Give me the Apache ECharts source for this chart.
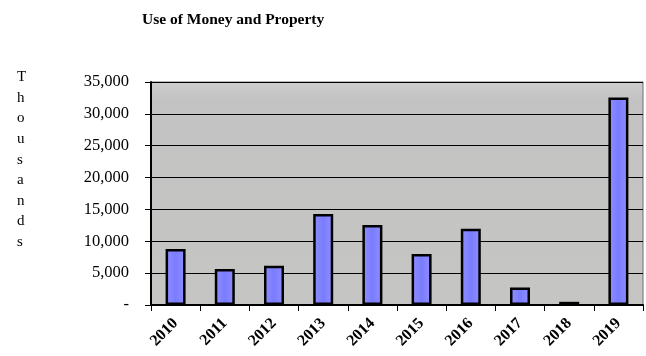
<!DOCTYPE html>
<html>
<head>
<meta charset="utf-8">
<script src="https://cdn.jsdelivr.net/npm/echarts@6/dist/echarts.min.js"></script>
<style>
  html, body { margin: 0; padding: 0; background: #ffffff; }
  #chart { width: 646px; height: 356px; }
</style>
</head>
<body>
<div id="chart"></div>
<script>
// Annual revenue from use of money and property, in thousands
const years = ['2010', '2011', '2012', '2013', '2014', '2015', '2016', '2017', '2018', '2019'];
const amounts = [8800, 5650, 6150, 14300, 12550, 8000, 11950, 2750, 500, 32550];
const yTickLabels = ['-', '5,000', '10,000', '15,000', '20,000', '25,000', '30,000', '35,000'];
const unitLabel = 'Thousands';

const serif = '"Liberation Serif", "DejaVu Serif", serif';

const chart = echarts.init(document.getElementById('chart'));
chart.setOption({
  animation: false,
  backgroundColor: '#ffffff',
  title: {
    text: 'Use of Money and Property',
    left: 137,
    top: 7,
    textStyle: { fontFamily: serif, fontWeight: 'bold', fontSize: 15.5, color: '#000' }
  },
  graphic: [{
    type: 'text',
    left: 17,
    top: 67,
    style: {
      text: unitLabel.split('').join('\n'),
      font: '15px ' + serif,
      lineHeight: 20.6,
      fill: '#000',
      align: 'center'
    }
  }],
  grid: {
    left: 151, right: 3, top: 82, bottom: 51,
    show: true,
    backgroundColor: {
      type: 'linear', x: 0, y: 0, x2: 0, y2: 1,
      colorStops: [
        { offset: 0, color: '#cdcdcd' },
        { offset: 0.08, color: '#c3c3c3' },
        { offset: 1, color: '#c5c5c3' }
      ]
    },
    borderColor: '#6e6e6e',
    borderWidth: 1
  },
  xAxis: {
    type: 'category',
    data: years,
    axisLine: { lineStyle: { color: '#000', width: 2 } },
    axisTick: { show: true, alignWithLabel: false, length: 6, lineStyle: { color: '#000' } },
    axisLabel: {
      rotate: 45,
      margin: 16,
      fontFamily: serif,
      fontWeight: 'bold',
      fontSize: 16,
      color: '#000'
    }
  },
  yAxis: {
    type: 'value',
    min: 0,
    max: 35000,
    interval: 5000,
    axisLine: { show: true, lineStyle: { color: '#000', width: 2 } },
    axisTick: { show: true, length: 6, lineStyle: { color: '#000' } },
    splitLine: { lineStyle: { color: '#000', width: 1 } },
    axisLabel: {
      margin: 22,
      fontFamily: serif,
      fontSize: 16.5,
      color: '#000',
      formatter: (v) => yTickLabels[Math.round(v / 5000)]
    }
  },
  series: [{
    type: 'bar',
    data: amounts,
    barWidth: 20,
    itemStyle: {
      color: {
        type: 'linear', x: 0, y: 0, x2: 1, y2: 0,
        colorStops: [
          { offset: 0, color: '#9090ff' },
          { offset: 0.5, color: '#7a7cff' },
          { offset: 1, color: '#9090ff' }
        ]
      },
      borderColor: '#000',
      borderWidth: 2.5
    }
  }]
});
</script>
</body>
</html>
